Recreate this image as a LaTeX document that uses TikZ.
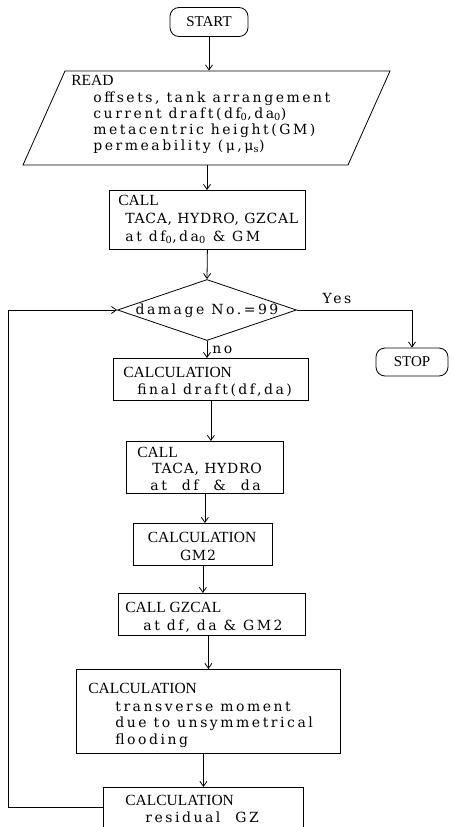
\documentclass[tikz,border=0pt]{standalone}
\usepackage{fontspec}
\setmainfont{Liberation Serif}
\newfontfamily\bodyfont{DejaVu Serif}[LetterSpace=18]
\newfontfamily\capsfont{DejaVu Serif}[LetterSpace=5]
\usetikzlibrary{arrows.meta,shapes.geometric}
\begin{document}
\begin{tikzpicture}[x=1pt,y=-1pt,
  line width=0.8pt,
  box/.style={draw, rectangle, inner sep=0pt, anchor=north west},
  term/.style={draw, rectangle, rounded corners=9pt, inner sep=0pt, font=\fontsize{15}{15}\selectfont},
  hd/.style={anchor=base west, inner sep=0pt, font=\fontsize{15.5}{15.5}\selectfont},
  bd/.style={anchor=base west, inner sep=0pt, font=\bodyfont\fontsize{14}{14}\selectfont},
  bdc/.style={anchor=base west, inner sep=0pt, font=\capsfont\fontsize{14}{14}\selectfont},
  arr/.style={-{Straight Barb[length=5pt,width=7pt]}}
]
\useasboundingbox (0,0) rectangle (453,827);

% START
\node[term, minimum width=78pt, minimum height=29pt] (start) at (209,22) {START};

% READ parallelogram
\coordinate (r1) at (65,71);
\coordinate (r2) at (390,71);
\coordinate (r3) at (348,165);
\coordinate (r4) at (23,165);
\draw (r1) -- (r2) -- (r3) -- (r4) -- cycle;
\node[inner sep=0pt, minimum width=280pt, minimum height=94pt] (read) at (207,118) {};
\node[hd] (tread) at (71,85) {READ};
\node[bd] (tr1) at (93,102) {offsets, tank arrangement};
\node[bd] (tr2) at (93,118) {current draft(df\textsubscript{0},da\textsubscript{0})};
\node[bd] (tr3) at (93,134) {metacentric height(GM)};
\node[bd] (tr4) at (93,150) {permeability (μ,μ\textsubscript{s})};
\draw[arr] (start.south) -- (start.south |- read.north);

% CALL 1
\node[box, minimum width=196pt, minimum height=59pt] (call1) at (109,190) {};
\node[hd] (tc1a) at (118,205) {CALL};
\node[bdc] (tc1b) at (125,223) {TACA, HYDRO, GZCAL};
\node[bd] (tc1c) at (125,241) {at df\textsubscript{0},da\textsubscript{0} \& GM};
\draw[arr] (read.south) -- (read.south |- call1.north);

% decision
\node[draw, diamond, minimum width=179pt, minimum height=61pt, inner sep=0pt] (dia) at (207,310) {};
\node[bd, anchor=center] (tdia) at (207,311) {damage No.=99};
\draw[arr] (call1.south) -- (dia.north);

% STOP
\node[term, minimum width=72pt, minimum height=28pt] (stop) at (412,362) {STOP};
\draw[arr] (dia.east) -- (dia.east -| stop.north) -- (stop.north);
\node[bd, anchor=center] (tyes) at (337,298) {Yes};

% CALCULATION final draft
\node[box, minimum width=195pt, minimum height=42pt] (calc1) at (113,358) {};
\node[hd] (tk1a) at (123,377) {CALCULATION};
\node[bd] (tk1b) at (137,394) {final draft(df,da)};
\draw[arr] (dia.south) -- (dia.south |- calc1.north);
\node[bd] (tno) at (212,353) {no};

% CALL 2
\node[box, minimum width=157pt, minimum height=52pt] (call2) at (126,441) {};
\node[hd] (tc2a) at (137,457) {CALL};
\node[bdc] (tc2b) at (152,473) {TACA, HYDRO};
\node[bd] (tc2c) at (150,490) {at\hspace{8pt} df\hspace{8pt} \&\hspace{8pt} da};
\draw[arr] (calc1.south) -- (calc1.south |- call2.north);

% CALCULATION GM2
\node[box, minimum width=139pt, minimum height=42pt] (calc2) at (133,523) {};
\node[hd, anchor=base] (tk2a) at (202,542) {CALCULATION};
\node[bdc, anchor=base] (tk2b) at (198,560) {GM2};
\draw[arr] (call2.south) -- (call2.south |- calc2.north);

% CALL GZCAL
\node[box, minimum width=187pt, minimum height=42pt] (call3) at (118,593) {};
\node[hd] (tc3a) at (125,612) {CALL GZCAL};
\node[bd] (tc3b) at (143,630) {at df, da \& GM2};
\draw[arr] (calc2.south) -- (calc2.south |- call3.north);

% CALCULATION transverse moment
\node[box, minimum width=264pt, minimum height=84pt] (calc3) at (76,669) {};
\node[hd] (tk3a) at (88,693) {CALCULATION};
\node[bd] (tk3b) at (115,711) {transverse moment};
\node[bd] (tk3c) at (115,727) {due to unsymmetrical};
\node[bd] (tk3d) at (115,744) {flooding};
\draw[arr] (call3.south -| calc3.north) -- (calc3.north);

% CALCULATION residual GZ
\node[box, minimum width=200pt, minimum height=40pt] (calc4) at (103,787) {};
\node[hd] (tk4a) at (125,805) {CALCULATION};
\node[bd] (tk4b) at (145,822) {residual\hspace{8pt} GZ};
\draw[arr] (calc3.south -| calc4.north) -- (calc4.north);

% loop back
\coordinate (lp) at (8,0);
\draw[arr] (calc4.west) -- (calc4.west -| lp) -- (lp |- dia.west) -- (dia.west);
\end{tikzpicture}
\end{document}
